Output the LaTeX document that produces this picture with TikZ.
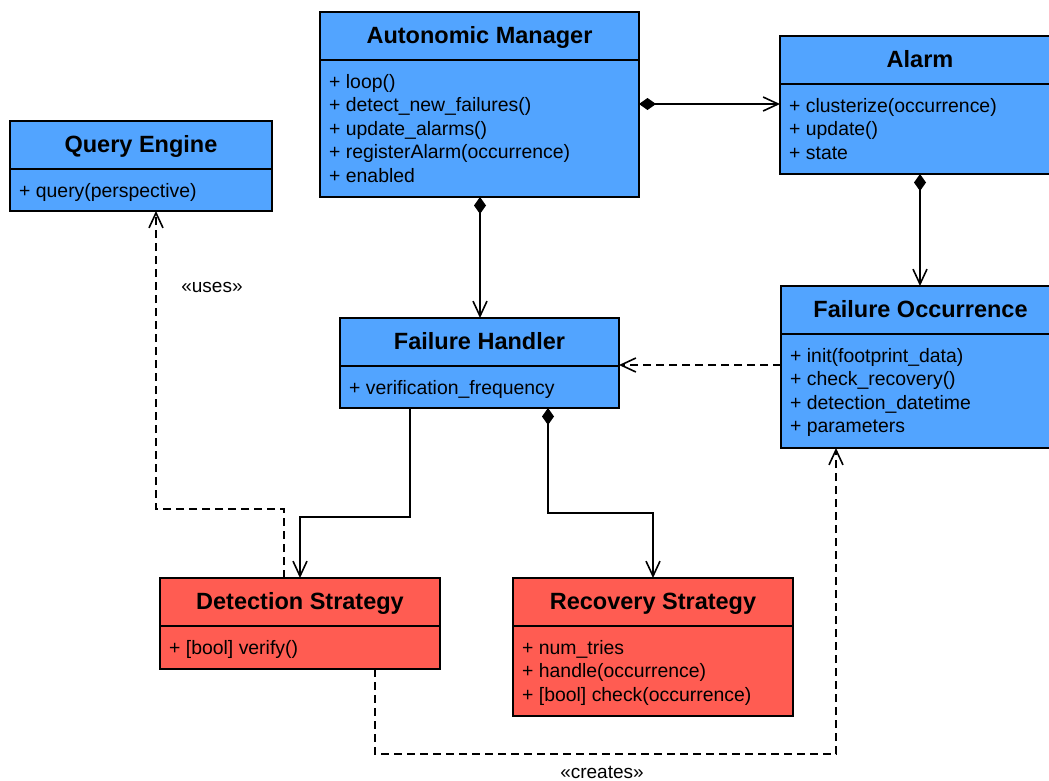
\documentclass[tikz,border=0pt]{standalone}
\usepackage{fontspec}
\setmainfont{Liberation Sans}
\usetikzlibrary{arrows.meta,calc}
\definecolor{umlblue}{RGB}{82,164,255}
\definecolor{umlred}{RGB}{255,92,82}
\tikzset{
  clsbox/.style={draw=black, line width=1.6pt, outer sep=0pt, inner sep=0pt, rectangle},
  clssep/.style={draw=black, line width=1.6pt},
  clstitle/.style={anchor=base, inner sep=0pt, font=\fontsize{23.5}{28}\selectfont\bfseries},
  clsbody/.style={anchor=base west, inner sep=0pt, font=\fontsize{19.4}{23.5}\selectfont},
  conn/.style={line width=1.6pt, draw=black},
  comp/.style={conn, {Diamond[length=17pt,width=12pt]}-{Straight Barb[length=15pt,width=14pt]}},
  assoc/.style={conn, -{Straight Barb[length=15pt,width=14pt]}},
  dep/.style={conn, dash pattern=on 8pt off 5pt, -{Straight Barb[length=15pt,width=14pt]}},
  lbl/.style={inner sep=0pt, font=\fontsize{19}{23}\selectfont}
}
\newcommand\umlclass[8]{%
  \node[clsbox, fill=#6, minimum width=#4, minimum height=#5, anchor=north west] (#1) at (#2,#3) {};
  \draw[clssep] ([yshift=-48pt]#1.north west) -- ([yshift=-48pt]#1.north east);
  \node[clstitle] (#1-t) at ([yshift=-31pt]#1.north) {#7};
  \node[clsbody] (#1-b) at ([xshift=9pt,yshift=-76pt]#1.north west) {\begin{tabular}[t]{@{}l@{}}#8\end{tabular}};
}
\begin{document}
\begin{tikzpicture}[x=1pt,y=-1pt]
\useasboundingbox (0,0) rectangle (1049,780);
\clip (0,0) rectangle (1049,780);
\fill[white] (0,0) rectangle (1049,780);

\umlclass{am}{320}{12}{319}{185}{umlblue}{Autonomic Manager}{+ loop()\\+ detect\_new\_failures()\\+ update\_alarms()\\+ registerAlarm(occurrence)\\+ enabled}
\umlclass{al}{780}{36}{280}{138}{umlblue}{Alarm}{+ clusterize(occurrence)\\+ update()\\+ state}
\umlclass{qe}{10}{121}{262}{90}{umlblue}{Query Engine}{+ query(perspective)}
\umlclass{fh}{340}{318}{279}{90}{umlblue}{Failure Handler}{+ verification\_frequency}
\umlclass{fo}{781}{286}{279}{162}{umlblue}{Failure Occurrence}{+ init(footprint\_data)\\+ check\_recovery()\\+ detection\_datetime\\+ parameters}
\umlclass{ds}{160}{578}{280}{91}{umlred}{Detection Strategy}{+ [bool] verify()}
\umlclass{rs}{513}{578}{280}{138}{umlred}{Recovery Strategy}{+ num\_tries\\+ handle(occurrence)\\+ [bool] check(occurrence)}

\draw[comp] ([yshift=0.5pt]am.east) -- ([yshift=0.5pt]am.east -| al.west);
\draw[comp] ([xshift=0.5pt]am.south) -- ([xshift=0.5pt]fh.north);
\draw[comp] (al.south) -- (al.south |- fo.north);
\draw[dep] ([yshift=2pt]fo.west) -- ([yshift=2pt]fo.west -| fh.east);
\draw[assoc] ([xshift=-69.5pt]fh.south) -- ++(0,109) -| (ds.north);
\draw[comp] ([xshift=68.5pt]fh.south) -- ++(0,105) -| (rs.north);
\draw[dep] ([xshift=-16pt]ds.north) -- ++(0,-69) -| ([xshift=15pt]qe.south);
\draw[dep] ([xshift=75pt]ds.south) -- ++(0,85) -| ([xshift=-84.5pt]fo.south);

\node[lbl] (uses) at (212,287) {«uses»};
\node[lbl] (creates) at (602,772) {«creates»};
\end{tikzpicture}
\end{document}
